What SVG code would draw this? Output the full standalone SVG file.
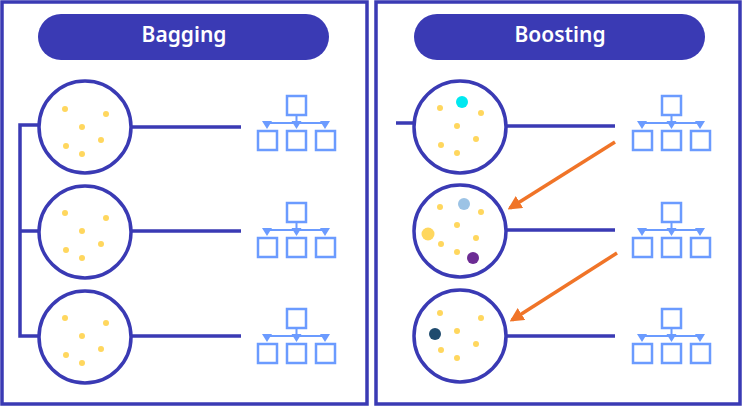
<svg xmlns="http://www.w3.org/2000/svg" xmlns:xlink="http://www.w3.org/1999/xlink" width="743" height="406" viewBox="0 0 743 406">
<style>
.panel{fill:#fff;stroke:#3a3ab4;stroke-width:3.5}
.pill{fill:#3a3ab4}
.title{font-family:"Noto Sans","Open Sans",sans-serif;font-size:21px;fill:#fff;text-anchor:middle;font-weight:600}
.ds{fill:#fff;stroke:#3a3ab4;stroke-width:3.5}
.dot{fill:#ffd75e}
.ln{stroke:#3a3ab4;stroke-width:3.5;fill:none}
.tb{fill:#fff;stroke:#6b9bff;stroke-width:2.5}
.tl{stroke:#6b9bff;stroke-width:2;fill:none}
.ar{stroke:#f07428;stroke-width:3.5;fill:none;marker-end:url(#ah)}
</style>
<defs>
<marker id="ah" viewBox="0 0 10 10" refX="8" refY="5" markerWidth="4" markerHeight="4" orient="auto"><path d="M0,0L10,5L0,10z" fill="#f07428"/></marker>
<g id="tree">
<rect class="tb" x="287" y="96" width="19" height="19"/>
<path class="tl" d="M296.5,115V123M267,123H325"/>
<path d="M262,121H272L267,129zM291.5,121H301.5L296.5,129zM320,121H330L325,129z" fill="#6b9bff"/>
<rect class="tb" x="258" y="131" width="19" height="19"/>
<rect class="tb" x="287" y="131" width="19" height="19"/>
<rect class="tb" x="316" y="131" width="19" height="19"/>
</g>
<g id="dots">
<circle class="dot" cx="-20" cy="-19" r="3"/><circle class="dot" cx="21" cy="-14" r="3"/><circle class="dot" cx="-3" cy="-1" r="3"/><circle class="dot" cx="16" cy="12" r="3"/><circle class="dot" cx="-19" cy="18" r="3"/><circle class="dot" cx="-3" cy="26" r="3"/>
</g>
</defs>
<g id="bagging-panel">
<rect class="panel" x="2" y="2" width="365" height="402"/>
<rect class="pill" x="38" y="14" width="291" height="46" rx="23"/>
<text class="title" x="184" y="42">Bagging</text>
</g>
<g id="boosting-panel">
<rect class="panel" x="376" y="2" width="364" height="402"/>
<rect class="pill" x="414" y="14" width="291" height="46" rx="23"/>
<text class="title" x="560" y="42">Boosting</text>
</g>
<g id="connectors">
<path class="ln" d="M40,125H20V336H40M20,231H40"/>
<path class="ln" d="M131,127H241M131,231H241M131,336H241"/>
<path class="ln" d="M396,123H414M506,126H615M506,230H615M506,336H615"/>
<path class="ar" d="M615,142L510,208"/>
<path class="ar" d="M617,253L512,320"/>
</g>
<g id="bag1"><circle class="ds" cx="85" cy="127" r="46"/><use href="#dots" x="85" y="128"/></g>
<g id="bag2"><circle class="ds" cx="85" cy="232" r="46"/><use href="#dots" x="85" y="232"/></g>
<g id="bag3"><circle class="ds" cx="85" cy="337" r="46"/><use href="#dots" x="85" y="337"/></g>
<g id="boost1"><circle class="ds" cx="460" cy="127" r="46"/><use href="#dots" x="460" y="127"/><circle cx="462" cy="102" r="6" fill="#00e8f0"/></g>
<g id="boost2"><circle class="ds" cx="460" cy="231" r="46"/><use href="#dots" x="460" y="226"/><circle cx="464" cy="204" r="6" fill="#9cc3e5"/><circle cx="428" cy="234" r="6.5" fill="#ffd75e"/><circle cx="473" cy="258" r="6" fill="#6c2c94"/></g>
<g id="boost3"><circle class="ds" cx="460" cy="336" r="46"/><use href="#dots" x="460" y="332"/><circle cx="435" cy="334" r="6" fill="#1f4b6e"/></g>
<g id="trees">
<use href="#tree"/><use href="#tree" y="107"/><use href="#tree" y="213"/>
<use href="#tree" x="375"/><use href="#tree" x="375" y="107"/><use href="#tree" x="375" y="213"/>
</g>
</svg>
